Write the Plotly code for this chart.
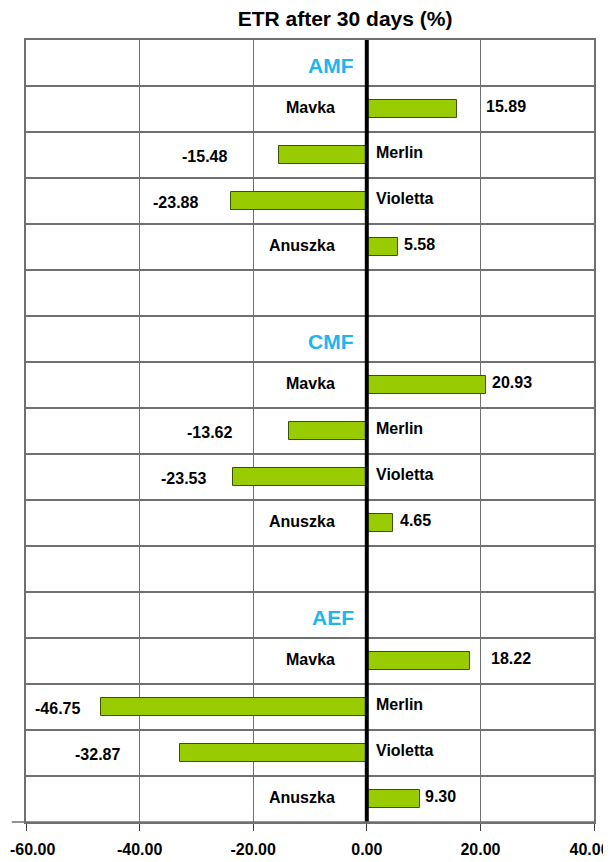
import plotly.graph_objects as go

# ETR after 30 days (%), per treatment group and variety
groups = ["AMF", "CMF", "AEF"]
varieties = ["Mavka", "Merlin", "Violetta", "Anuszka"]
amf_values = [15.89, -15.48, -23.88, 5.58]
cmf_values = [20.93, -13.62, -23.53, 4.65]
aef_values = [18.22, -46.75, -32.87, 9.30]
tick_vals = [-60, -40, -20, 0, 20, 40]
tick_text = ["-60.00", "-40.00", "-20.00", "0.00", "20.00", "40.00"]

# pixel nudges for the value labels (hand placed in the original)
label_shift = [[49, -74, -56, 21], [26, -80, -50, 22], [41, -44, -83, 21]]

FONT = "Liberation Sans, Arial, sans-serif"
GREEN = "#99CC00"
GRID = "#707070"
NB = "\u00a0"

ys, xs, names, heads = [], [], [], []
row = 0
for gi, vals in enumerate([amf_values, cmf_values, aef_values]):
    heads.append((groups[gi], row))
    row += 1
    for v, n in zip(vals, varieties):
        ys.append(row)
        xs.append(v)
        names.append(n)
        row += 1
    row += 1  # blank spacer row
n_rows = row - 1  # last spacer not drawn

fig = go.Figure()
fig.add_trace(go.Bar(
    x=xs, y=ys, orientation="h", width=0.41,
    marker=dict(color=GREEN, line=dict(color="#3d5200", width=1)),
    hoverinfo="x+text", hovertext=names, showlegend=False,
))

ann = []
for g, r in heads:
    ann.append(dict(x=0, y=r, text="<b>%s</b>" % g, showarrow=False,
                    xanchor="right", xshift=-11, yshift=-2,
                    font=dict(family=FONT, size=21, color="#22B4EE")))
k = 0
for gi in range(3):
    for vi in range(4):
        v, y, n = xs[k], ys[k], names[k]
        if v >= 0:
            ann.append(dict(x=0, y=y, text="<b>%s</b>" % n, showarrow=False,
                            xanchor="right", xshift=-30, yshift=2,
                            font=dict(family=FONT, size=16, color="black")))
        else:
            ann.append(dict(x=0, y=y, text="<b>%s</b>" % n, showarrow=False,
                            xanchor="left", xshift=7, yshift=3,
                            font=dict(family=FONT, size=16, color="black")))
        ann.append(dict(x=v, y=y, text="<b>%.2f</b>" % v, showarrow=False,
                        xanchor="center", xshift=label_shift[gi][vi],
                        yshift=-1 if v < 0 else 3,
                        font=dict(family=FONT, size=16, color="black")))
        k += 1

# pad the two edge tick labels so they stay inside the page
ticks_shown = ["<b>%s</b>" % t for t in tick_text]
ticks_shown[0] = NB * 3 + ticks_shown[0]
ticks_shown[-1] = ticks_shown[-1] + NB * 2

fig.update_layout(
    width=603, height=854,
    margin=dict(l=18, r=17, t=32, b=40, autoexpand=False),
    paper_bgcolor="white", plot_bgcolor="white",
    title=dict(text="<b>ETR after 30 days (%)</b>", x=0.559, xanchor="center",
               y=0.988, yanchor="middle",
               font=dict(family=FONT, size=21, color="black")),
    annotations=ann,
    bargap=0,
    shapes=[
        dict(type="line", xref="x", yref="paper", x0=0, x1=0, y0=0, y1=1,
             line=dict(color="black", width=4)),
        dict(type="line", xref="paper", yref="paper", x0=-0.025, x1=1, y0=0, y1=0,
             line=dict(color=GRID, width=1.5)),
    ],
)
fig.update_xaxes(
    range=[-60, 40], tickvals=tick_vals, ticktext=ticks_shown,
    showgrid=True, gridcolor=GRID, gridwidth=1.2, zeroline=False,
    showline=True, linecolor=GRID, linewidth=1.5, mirror=True,
    ticks="outside", ticklen=7, tickcolor="#404040", ticklabelstandoff=5,
    ticklabeloverflow="allow", automargin=False,
    tickfont=dict(family=FONT, size=16, color="black"),
)
fig.update_yaxes(
    range=[n_rows - 0.5, -0.5], tickmode="linear", tick0=0.5, dtick=1,
    showticklabels=False, showgrid=True, gridcolor=GRID, gridwidth=1.5,
    zeroline=False, showline=True, linecolor=GRID, linewidth=1.5, mirror=True,
    automargin=False,
)

fig.write_html("out.html")
